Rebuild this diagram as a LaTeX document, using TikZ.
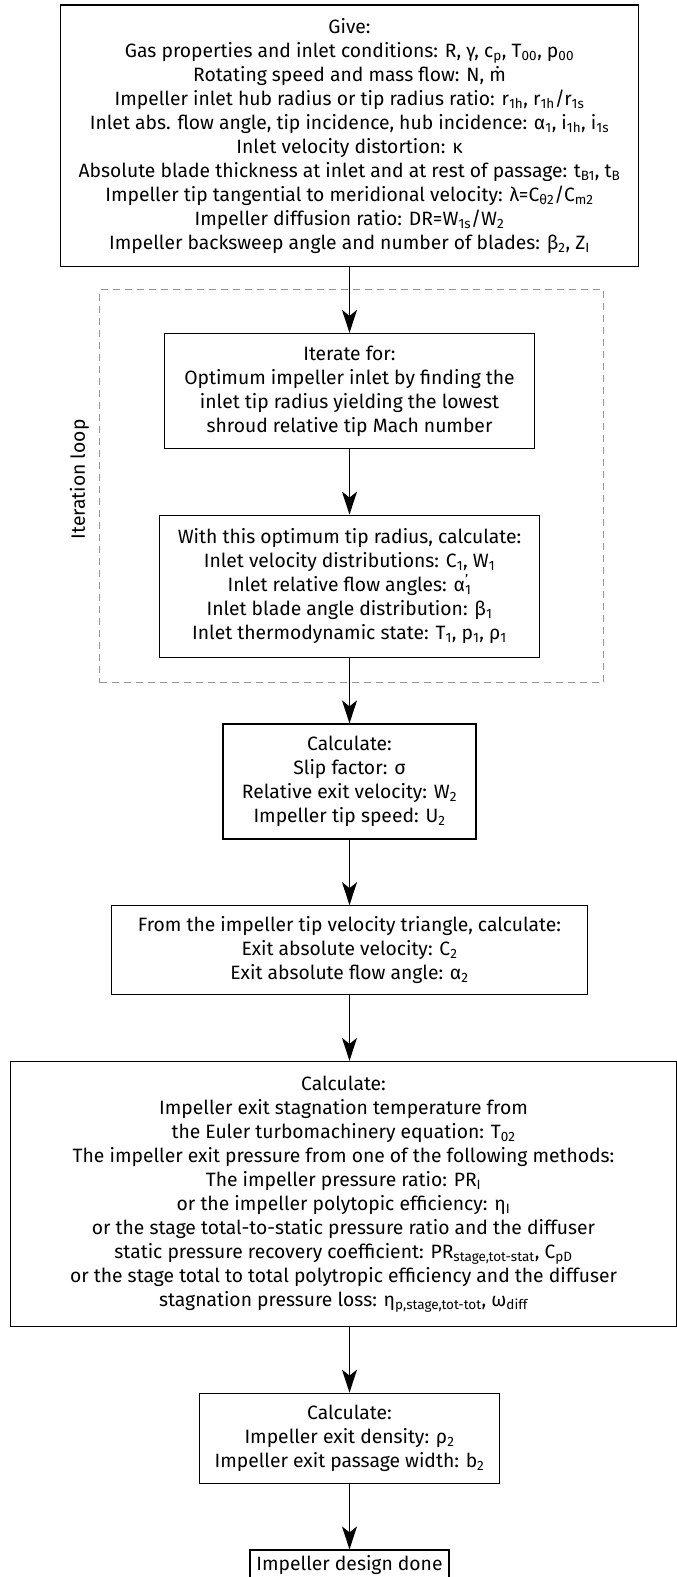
\documentclass[tikz,border=0pt]{standalone}
\usepackage{fontspec}
\setmainfont{Fira Sans}
\usetikzlibrary{arrows.meta, positioning, fit}
\definecolor{loopgray}{RGB}{150,150,150}
\newcommand{\lo}[1]{\textsubscript{#1}}

\begin{document}
\begin{tikzpicture}[
  x=1pt, y=1pt,
  font=\fontsize{19.3}{24}\selectfont,
  box/.style={rectangle, draw=black, line width=1.25pt, align=center, inner sep=0pt},
  arrow/.style={-{Stealth[length=23pt, width=15pt, inset=6pt]}, line width=1.3pt},
  loopbox/.style={draw=loopgray, line width=1.1pt, dash pattern=on 7pt off 5pt},
  node distance=65.5pt
]
\useasboundingbox (0,0) rectangle (677,-1577);
\node[box, minimum width=578pt, minimum height=261.7pt] (give) at (349.5,-135.9)
  {Give:\\
   Gas properties and inlet conditions: R, γ, c\lo{p}, T\lo{00}, p\lo{00}\\
   Rotating speed and mass flow: N, \.{m}\\
   Impeller inlet hub radius or tip radius ratio: r\lo{1h}, r\lo{1h}/r\lo{1s}\\
   Inlet abs. flow angle, tip incidence, hub incidence: α\lo{1}, i\lo{1h}, i\lo{1s}\\
   Inlet velocity distortion: κ\\
   Absolute blade thickness at inlet and at rest of passage: t\lo{B1}, t\lo{B}\\
   Impeller tip tangential to meridional velocity: λ=C\lo{θ2}/C\lo{m2}\\
   Impeller diffusion ratio: DR=W\lo{1s}/W\lo{2}\\
   Impeller backsweep angle and number of blades: β\lo{2}, Z\lo{I}};
\node[box, minimum width=370.7pt, minimum height=115pt, below=of give] (iter)
  {Iterate for:\\
   Optimum impeller inlet by finding the\\
   inlet tip radius yielding the lowest\\
   shroud relative tip Mach number};
\node[box, minimum width=380.3pt, minimum height=142pt, below=of iter] (inlet)
  {With this optimum tip radius, calculate:\\
   Inlet velocity distributions: C\lo{1}, W\lo{1}\\
   Inlet relative flow angles: α\rlap{\textsuperscript{'}}\lo{1}\\
   Inlet blade angle distribution: β\lo{1}\\
   Inlet thermodynamic state: T\lo{1}, p\lo{1}, ρ\lo{1}};
\node[box, minimum width=253pt, minimum height=115pt, below=of inlet] (slip)
  {Calculate:\\
   Slip factor: σ\\
   Relative exit velocity: W\lo{2}\\
   Impeller tip speed: U\lo{2}};
\node[box, minimum width=475.3pt, minimum height=89pt, below=of slip] (tri)
  {From the impeller tip velocity triangle, calculate:\\
   Exit absolute velocity: C\lo{2}\\
   Exit absolute flow angle: α\lo{2}};
\node[box, minimum width=665.3pt, minimum height=265pt, below=of tri, xshift=-6pt] (exit)
  {Calculate:\\
   Impeller exit stagnation temperature from\\
   the Euler turbomachinery equation: T\lo{02}\\
   The impeller exit pressure from one of the following methods:\\
   The impeller pressure ratio: PR\lo{I}\\
   or the impeller polytopic efficiency: η\lo{I}\\
   or the stage total-to-static pressure ratio and the diffuser\\
   static pressure recovery coefficient: PR\lo{stage,tot-stat}, C\lo{pD}\\
   or the stage total to total polytropic efficiency and the diffuser\\
   stagnation pressure loss: η\lo{p,stage,tot-tot}, ω\lo{diff}};
\coordinate (exitbot) at (exit.south -| tri.south);
\node[box, minimum width=299.7pt, minimum height=90pt, below=of exitbot] (dens)
  {Calculate:\\
   Impeller exit density: ρ\lo{2}\\
   Impeller exit passage width: b\lo{2}};
\node[box, minimum width=199pt, minimum height=31pt, below=of dens] (done)
  {Impeller design done};
% dashed iteration frame
\coordinate (looptop) at ([yshift=43pt]iter.north);
\coordinate (loopbot) at ([yshift=-25pt]inlet.south);
\coordinate (loopleft) at ([xshift=-59pt]inlet.west);
\coordinate (loopright) at ([xshift=63pt]inlet.east);
\node[loopbox, inner sep=0pt, fit=(looptop)(loopbot)(loopleft)(loopright)] (loop) {};
\node[rotate=90, anchor=south, inner sep=0pt] (looplabel)
  at ([xshift=-10pt, yshift=7pt]loop.west) {Iteration loop};
\draw[arrow] (give) -- (iter);
\draw[arrow] (iter) -- (inlet);
\draw[arrow] (inlet) -- (slip);
\draw[arrow] (slip) -- (tri);
\draw[arrow] (tri.south) -- (tri.south |- exit.north);
\draw[arrow] (exitbot) -- (dens);
\draw[arrow] (dens) -- (done);
\end{tikzpicture}
\end{document}
